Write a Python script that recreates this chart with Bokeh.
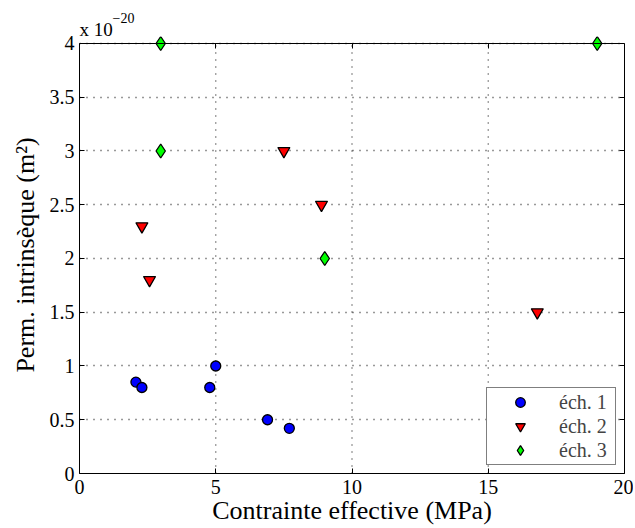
from bokeh.plotting import figure
from bokeh.models import LinearAxis, Legend, LegendItem, FixedTicker, Range1d, Title
from bokeh.embed import file_html
from bokeh.resources import INLINE

# data (permeability in units of 1e-20 m^2)
ech1_x = [2.07, 2.29, 4.78, 5.0, 6.9, 7.7]
ech1_y = [0.85, 0.80, 0.80, 1.0, 0.50, 0.42]
ech2_x = [2.29, 2.57, 7.5, 8.88, 16.8]
ech2_y = [2.3, 1.8, 3.0, 2.5, 1.5]
ech3_x = [2.98, 2.98, 9.0, 19.0]
ech3_y = [4.0, 3.0, 2.0, 4.0]
x_ticks = [0, 5, 10, 15, 20]
y_ticks = [0, 0.5, 1, 1.5, 2, 2.5, 3, 3.5, 4]
y_tick_labels = ["0", "0.5", "1", "1.5", "2", "2.5", "3", "3.5", "4"]
x_tick_labels = ["0", "5", "10", "15", "20"]
series_names = ["éch. 1", "éch. 2", "éch. 3"]
mult_base = "x 10"
mult_exp = "−20"

FONT = "Liberation Serif, Times New Roman, serif"
TOP_PAD = 0.065  # room so markers on the top edge are not clipped

x0, x1 = x_ticks[0], x_ticks[-1]
y0, y1 = y_ticks[0], y_ticks[-1]

p = figure(frame_width=545, frame_height=437, output_backend="svg",
           toolbar_location=None, x_range=Range1d(x0, x1),
           y_range=Range1d(y0, y1 + TOP_PAD),
           min_border_left=79, min_border_right=9, min_border_top=36,
           min_border_bottom=50, background_fill_color="white",
           border_fill_color="white")
p.outline_line_color = None


def style_axis(ax, labels=True):
    ax.axis_line_color = "black"
    ax.axis_line_width = 1
    ax.major_tick_line_color = "black"
    ax.major_tick_in = 5
    ax.major_tick_out = 0
    ax.minor_tick_line_color = None
    ax.major_label_text_font = FONT
    ax.major_label_text_font_size = "20px"
    ax.major_label_text_color = "black" if labels else None
    if not labels:
        ax.major_label_standoff = 0


p.xaxis.ticker = FixedTicker(ticks=x_ticks)
p.yaxis.ticker = FixedTicker(ticks=y_ticks)
p.xaxis.major_label_overrides = {t: l for t, l in zip(x_ticks, x_tick_labels)}
p.yaxis.major_label_overrides = {t: l for t, l in zip(y_ticks, y_tick_labels)}
style_axis(p.xaxis[0])
style_axis(p.yaxis[0])
p.yaxis.bounds = (y0, y1)
p.xaxis.major_label_standoff = 6
p.yaxis.major_label_standoff = 5
p.xaxis.axis_label = "Contrainte effective (MPa)"
p.yaxis.axis_label = "Perm. intrinsèque (m²)"
for ax in (p.xaxis[0], p.yaxis[0]):
    ax.axis_label_text_font = FONT
    ax.axis_label_text_font_size = "26px"
    ax.axis_label_text_font_style = "normal"
    ax.axis_label_text_color = "black"
p.xaxis.axis_label_text_line_height = 1.0
p.xaxis.axis_label_standoff = -1
p.yaxis.axis_label_standoff = 7

top = LinearAxis(ticker=FixedTicker(ticks=x_ticks), fixed_location=y1)
right = LinearAxis(ticker=FixedTicker(ticks=y_ticks), bounds=(y0, y1))
style_axis(top, labels=False)
style_axis(right, labels=False)
p.add_layout(top, "above")
p.add_layout(right, "right")

# multiplier "x 10^-20" above the axis
base_title = Title(text=mult_base, align="left", offset=0, standoff=-6,
                   text_font=FONT, text_font_size="19px", text_font_style="normal",
                   text_color="black")
p.add_layout(base_title, "above")
p.title.text = mult_exp
p.title.align = "left"
p.title.offset = 33
p.title.standoff = -6
p.title.text_font = FONT
p.title.text_font_size = "14px"
p.title.text_font_style = "normal"
p.title.text_color = "black"

# horizontal grid lines
p.ygrid.ticker = FixedTicker(ticks=y_ticks)
g = p.ygrid[0]
g.grid_line_color = "black"
g.grid_line_dash = "1 6"
g.grid_line_width = 1.3
g.grid_line_alpha = 0.8
# vertical grid lines limited to the box
p.xgrid.visible = False
inner_x = x_ticks[1:-1]
p.segment(x0=inner_x, y0=[y0] * len(inner_x), x1=inner_x, y1=[y1] * len(inner_x),
          line_color="black", line_dash="1 6", line_width=1.3, line_alpha=0.8)

r1 = p.scatter(ech1_x, ech1_y, marker="circle", size=10, fill_color="#0000ff",
               line_color="black", line_width=1.3)
r2 = p.scatter(ech2_x, ech2_y, marker="inverted_triangle", size=12, fill_color="#ff0000",
               line_color="black", line_width=1.3)
r3 = p.scatter(ech3_x, ech3_y, marker="diamond", size=14, fill_color="#00ff00",
               line_color="black", line_width=1.3)

legend = Legend(items=[LegendItem(label=series_names[0], renderers=[r1]),
                       LegendItem(label=series_names[1], renderers=[r2]),
                       LegendItem(label=series_names[2], renderers=[r3])],
                location="bottom_right")
legend.label_text_font = FONT
legend.label_text_font_size = "20px"
legend.border_line_color = "black"
legend.border_line_width = 1
legend.background_fill_alpha = 1
legend.padding = 2
legend.margin = 8
legend.spacing = 0
legend.glyph_width = 62
legend.glyph_height = 24
legend.label_height = 24
legend.label_width = 54
legend.label_standoff = 8
p.add_layout(legend)

open("out.html", "w").write(file_html(p, INLINE))
